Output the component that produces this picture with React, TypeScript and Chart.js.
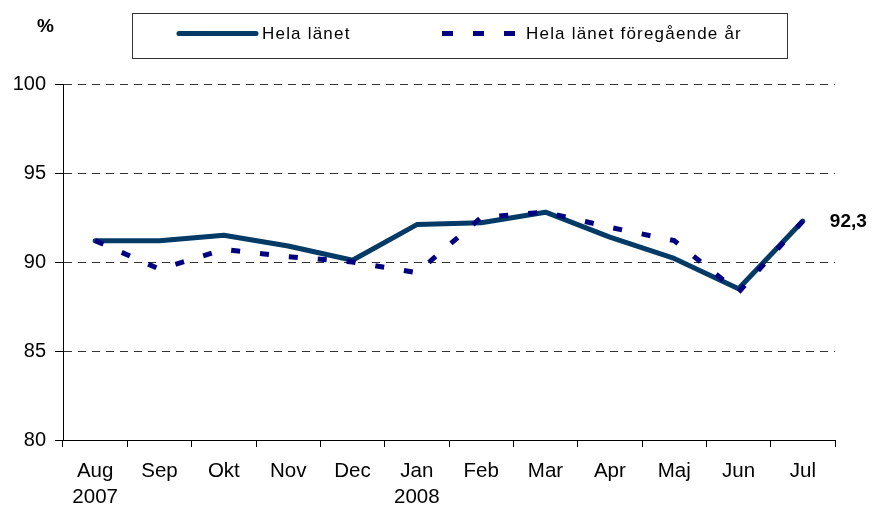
import React, { useEffect, useRef } from 'react';
import { Chart, registerables } from 'chart.js';

Chart.register(...registerables);

const months: (string | string[])[] = [['Aug', '2007'], 'Sep', 'Okt', 'Nov', 'Dec', ['Jan', '2008'], 'Feb', 'Mar', 'Apr', 'Maj', 'Jun', 'Jul'];
const helaLanet = [91.2, 91.2, 91.5, 90.9, 90.1, 92.1, 92.2, 92.8, 91.4, 90.2, 88.5, 92.3];
const helaLanetForegaende = [91.2, 89.6, 90.7, 90.3, 90.0, 89.4, 92.5, 92.8, 91.95, 91.2, 88.3, 92.3];
const seriesNames = ['Hela länet', 'Hela länet föregående år'];
const seriesColors = ['#033a66', '#000080'];
const yMin = 80;
const yMax = 100;
const yStep = 5;
const unitLabel = '%';
const lastValueLabel = '92,3';

const FONT = '"Liberation Sans", Arial, Helvetica, sans-serif';

const overlayPlugin = {
  id: 'overlay',
  afterDraw(chart: any) {
    const ctx = chart.ctx as CanvasRenderingContext2D;
    ctx.save();
    ctx.fillStyle = '#000';
    ctx.textBaseline = 'middle';
    ctx.textAlign = 'left';
    // unit label
    ctx.font = `bold 19px ${FONT}`;
    ctx.fillText(unitLabel, 37, 27);

    // legend box
    ctx.strokeStyle = '#333';
    ctx.lineWidth = 1;
    ctx.strokeRect(132.5, 13.5, 655, 45);

    // legend item 1
    ctx.lineWidth = 5;
    ctx.lineCap = 'round';
    ctx.strokeStyle = seriesColors[0];
    ctx.beginPath();
    ctx.moveTo(179, 33.5);
    ctx.lineTo(256, 33.5);
    ctx.stroke();
    ctx.font = `17px ${FONT}`;
    (ctx as any).letterSpacing = '1.2px';
    ctx.fillStyle = '#000';
    ctx.fillText(seriesNames[0], 262, 34.5);

    // legend item 2
    ctx.lineCap = 'butt';
    ctx.strokeStyle = seriesColors[1];
    ctx.setLineDash([11, 20]);
    ctx.beginPath();
    ctx.moveTo(442, 33.5);
    ctx.lineTo(516, 33.5);
    ctx.stroke();
    ctx.setLineDash([]);
    ctx.fillText(seriesNames[1], 526, 34.5);
    (ctx as any).letterSpacing = '0px';

    // last value label
    const meta = chart.getDatasetMeta(0);
    const pt = meta.data[meta.data.length - 1];
    ctx.font = `bold 19px ${FONT}`;
    ctx.fillText(lastValueLabel, pt.x + 27, pt.y + 1);
    ctx.restore();
  },
};

export default function App() {
  const ref = useRef<HTMLCanvasElement>(null);
  useEffect(() => {
    if (!ref.current) return;
    const chart = new Chart(ref.current, {
      type: 'line',
      data: {
        labels: months,
        datasets: [
          {
            label: seriesNames[1],
            data: helaLanetForegaende,
            borderColor: seriesColors[1],
            borderWidth: 5,
            borderDash: [9, 20],
            borderCapStyle: 'butt',
            pointRadius: 0,
            tension: 0,
            fill: false,
          },
          {
            label: seriesNames[0],
            data: helaLanet,
            borderColor: seriesColors[0],
            borderWidth: 5,
            borderJoinStyle: 'round',
            borderCapStyle: 'round',
            pointRadius: 0,
            tension: 0,
            fill: false,
          },
        ],
      },
      options: {
        animation: false,
        responsive: false,
        devicePixelRatio: 1,
        layout: { padding: { left: 0, right: 39, top: 84, bottom: 0 } },
        plugins: { legend: { display: false }, tooltip: { enabled: false } },
        scales: {
          x: {
            offset: true,
            afterFit: (s: any) => { s.height = 66; },
            grid: {
              offset: true,
              drawOnChartArea: false,
              tickLength: 7,
              color: '#000',
            },
            border: { color: '#000', width: 1 },
            ticks: {
              color: '#000',
              font: { family: FONT, size: 20.5, lineHeight: 1.25 },
              padding: 12,
              maxRotation: 0,
              autoSkip: false,
            },
          },
          y: {
            min: yMin,
            max: yMax,
            afterFit: (s: any) => { s.width = 63; },
            grid: {
              color: (c: any) => (c.tick && c.tick.value === yMin ? 'rgba(0,0,0,0)' : '#333'),
              tickColor: '#000',
              tickLength: 8,
              tickBorderDash: [],
            },
            border: { color: '#000', width: 1, dash: [8, 6] },
            ticks: {
              stepSize: yStep,
              color: '#000',
              font: { family: FONT, size: 20 },
              padding: 9,
            },
          },
        },
      },
      plugins: [overlayPlugin],
    } as any);
    return () => chart.destroy();
  }, []);
  return (
    <div style={{ position: 'absolute', left: 0, top: 0, width: 874, height: 506, background: '#fff' }}>
      <canvas ref={ref} width={874} height={506} style={{ width: 874, height: 506, display: 'block' }} />
    </div>
  );
}
